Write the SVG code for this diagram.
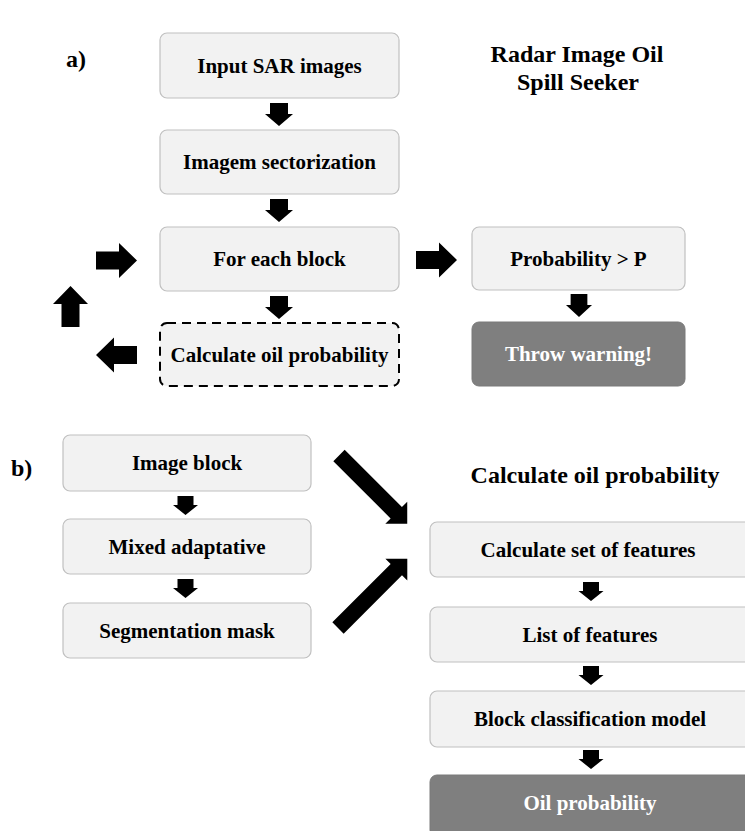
<svg xmlns="http://www.w3.org/2000/svg" xmlns:xlink="http://www.w3.org/1999/xlink" width="745" height="831" viewBox="0 0 745 831">
<style>
  .box{fill:#f2f2f2;stroke:#c0c0c0;stroke-width:1.2}
  .dark{fill:#7f7f7f;stroke:#7a7a7a;stroke-width:1}
  .dash{fill:#f2f2f2;stroke:#000;stroke-width:2;stroke-dasharray:9,6}
  text{font-family:'Liberation Serif','Times New Roman',serif;font-weight:bold}
  .t{font-size:21px;fill:#000;text-anchor:middle}
  .w{fill:#fff}
  .h{font-size:24px;fill:#000;text-anchor:middle}
  .lbl{font-size:24px;fill:#000}
  .arr{fill:#000}
</style>
<defs>
  <path id="dn" d="M-9,0 H9 V11 H14 L0,23 L-14,11 H-9 Z"/>
  <path id="dn2" d="M-8,0 H8 V9 H12.5 L0,19 L-12.5,9 H-8 Z"/>
  <path id="rt" d="M0,-9 H23 V-17.5 L41,0 L23,17.5 V9 H0 Z"/>
  <path id="diag1" d="M0,-8 H81 V-15.5 L96.5,0 L81,15.5 V8 H0 Z"/>
  <path id="diag2" d="M0,-8 H82.5 V-15.5 L98,0 L82.5,15.5 V8 H0 Z"/>
</defs>

<!-- labels -->
<text class="lbl" x="66" y="67">a)</text>
<text class="lbl" x="11" y="476">b)</text>
<g id="title-a">
  <text class="h" x="577" y="62">Radar Image Oil</text>
  <text class="h" x="578" y="90">Spill Seeker</text>
</g>
<g id="title-b">
  <text class="h" x="595" y="483">Calculate oil probability</text>
</g>

<!-- part a nodes -->
<g id="input-sar">
  <rect class="box" x="160" y="33" width="239" height="65" rx="7"/>
  <text class="t" x="279.5" y="73">Input SAR images</text>
</g>
<g id="sectorization">
  <rect class="box" x="160" y="130" width="239" height="64" rx="7"/>
  <text class="t" x="279.5" y="169">Imagem sectorization</text>
</g>
<g id="for-each-block">
  <rect class="box" x="160" y="227" width="239" height="64" rx="7"/>
  <text class="t" x="279.5" y="266">For each block</text>
</g>
<g id="calc-oil-prob">
  <rect class="dash" x="160" y="323" width="239" height="63" rx="7"/>
  <text class="t" x="279.5" y="361.5">Calculate oil probability</text>
</g>
<g id="prob-gt-p">
  <rect class="box" x="472" y="227" width="213" height="63" rx="7"/>
  <text class="t" x="578.5" y="265.5">Probability &gt; P</text>
</g>
<g id="throw-warning">
  <rect class="dark" x="472" y="322" width="213" height="64" rx="7"/>
  <text class="t w" x="578.5" y="361">Throw warning!</text>
</g>

<!-- part b nodes -->
<g id="image-block">
  <rect class="box" x="63" y="435" width="248" height="56" rx="7"/>
  <text class="t" x="187" y="470">Image block</text>
</g>
<g id="mixed-adaptative">
  <rect class="box" x="63" y="519" width="248" height="55" rx="7"/>
  <text class="t" x="187" y="553.5">Mixed adaptative</text>
</g>
<g id="segmentation-mask">
  <rect class="box" x="63" y="603" width="248" height="55" rx="7"/>
  <text class="t" x="187" y="637.5">Segmentation mask</text>
</g>
<g id="calc-features">
  <rect class="box" x="430" y="522" width="324" height="55" rx="7"/>
  <text class="t" x="588" y="556.5">Calculate set of features</text>
</g>
<g id="list-features">
  <rect class="box" x="430" y="607" width="324" height="55" rx="7"/>
  <text class="t" x="590" y="641.5">List of features</text>
</g>
<g id="block-classification">
  <rect class="box" x="430" y="691" width="324" height="56" rx="7"/>
  <text class="t" x="590" y="726">Block classification model</text>
</g>
<g id="oil-probability">
  <rect class="dark" x="430" y="775" width="324" height="62" rx="7"/>
  <text class="t w" x="590" y="810">Oil probability</text>
</g>

<!-- connectors -->
<g id="connectors" class="arr">
  <use xlink:href="#dn" x="279" y="103"/>
  <use xlink:href="#dn" x="279" y="199"/>
  <use xlink:href="#dn" x="279" y="296"/>
  <use xlink:href="#dn" transform="translate(579,294) scale(0.93,1)"/>
  <use xlink:href="#rt" transform="translate(96,260.5)"/>
  <use xlink:href="#rt" transform="translate(416,260)"/>
  <use xlink:href="#rt" transform="translate(70.5,327) rotate(-90)"/>
  <use xlink:href="#rt" transform="translate(137,355) rotate(180)"/>
  <use xlink:href="#dn2" x="185.5" y="496"/>
  <use xlink:href="#dn2" x="185.5" y="579"/>
  <use xlink:href="#dn2" x="591" y="582"/>
  <use xlink:href="#dn2" x="591" y="666"/>
  <use xlink:href="#dn2" x="591" y="750"/>
  <use xlink:href="#diag1" transform="translate(339,455.5) rotate(45)"/>
  <use xlink:href="#diag2" transform="translate(338,628) rotate(-45)"/>
</g>
</svg>
